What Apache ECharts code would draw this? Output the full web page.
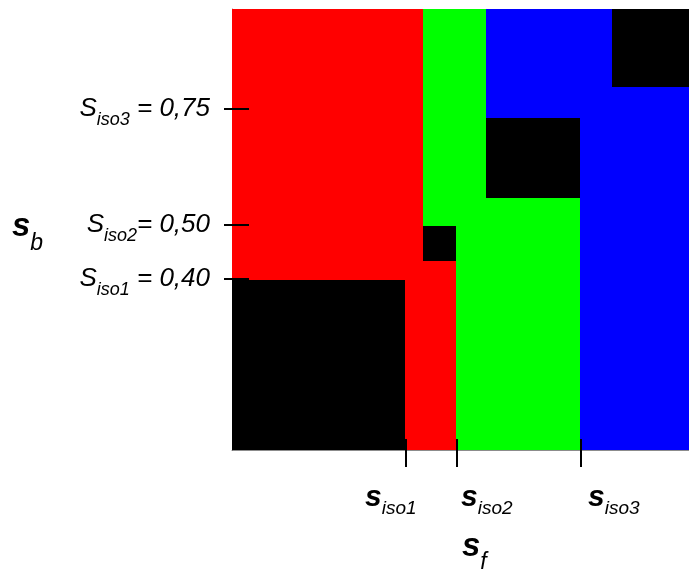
<!DOCTYPE html>
<html><head><meta charset="utf-8">
<script src="https://cdn.jsdelivr.net/npm/echarts@6/dist/echarts.min.js"></script>
<style>html,body{margin:0;padding:0;background:#fff}#c{width:689px;height:574px}</style>
</head><body><div id="c"></div><script>
// Regions of the (s_f, s_b) plane, in plot units (0-100 on each axis)
const regionClass = ['none','R','R','R','none','G','G','G','none','B','B','B','none'];
const regionX0 = [0,    0,    37.9, 41.8, 41.8, 41.8, 49.1, 55.6, 55.6, 55.6, 76.1, 83.2, 83.2];
const regionX1 = [37.9, 41.8, 41.8, 49.1, 49.1, 55.6, 76.1, 76.1, 76.1, 83.2, 100,  100,  100];
const regionY0 = [0,    38.5, 0,    0,    42.9, 50.8, 0,    50.8, 57.2, 75.3, 0,    75.3, 82.2];
const regionY1 = [38.5, 100,  38.5, 42.9, 50.8, 100,  50.8, 57.2, 75.3, 100,  75.3, 82.2, 100];

// Tick marks and labels
const sfTickValues = [38.1, 49.2, 76.4];
const sfTickSubs   = ['iso1', 'iso2', 'iso3'];
const sbTickValues = [38.8, 51.0, 77.4];
const sbTickSubs   = ['iso1', 'iso2', 'iso3'];
const sbTickNums   = ['0,40', '0,50', '0,75'];

const FONT = '"Liberation Sans", Arial, sans-serif';
const classColor = { none: '#000000', R: '#ff0000', G: '#00ff00', B: '#0000ff' };
const sfLabelDx = [-41, 4, 7];
const sbSep = [' = ', '= ', ' = '];

const regionData = regionClass.map((c, i) => [regionX0[i], regionX1[i], regionY0[i], regionY1[i]]);

const chart = echarts.init(document.getElementById('c'), null, { renderer: 'canvas' });
chart.setOption({
  animation: false,
  backgroundColor: '#fff',
  grid: { left: 232, top: 9, right: 0, bottom: 124 },
  xAxis: {
    type: 'value', min: 0, max: 100,
    axisLine: { show: true, onZero: false, lineStyle: { color: 'rgba(0,0,0,0.45)', width: 1 } },
    axisTick: { show: false }, axisLabel: { show: false }, splitLine: { show: false }
  },
  yAxis: {
    type: 'value', min: 0, max: 100,
    axisLine: { show: true, onZero: false, lineStyle: { color: 'rgba(0,0,0,0.45)', width: 1 } },
    axisTick: { show: false }, axisLabel: { show: false }, splitLine: { show: false }
  },
  series: [
    {
      type: 'custom', clip: true,
      data: regionData,
      encode: { x: [0, 1], y: [2, 3] },
      renderItem: function (params, api) {
        const p0 = api.coord([api.value(0), api.value(2)]);
        const p1 = api.coord([api.value(1), api.value(3)]);
        const x0 = Math.round(Math.min(p0[0], p1[0])), x1 = Math.round(Math.max(p0[0], p1[0]));
        const y0 = Math.round(Math.min(p0[1], p1[1])), y1 = Math.round(Math.max(p0[1], p1[1]));
        return {
          type: 'rect',
          shape: { x: x0, y: y0, width: x1 - x0, height: y1 - y0 },
          style: { fill: classColor[regionClass[params.dataIndex]] }
        };
      },
      z: 1
    },
    {
      type: 'custom', clip: false,
      data: sfTickValues.map(v => [v, 0]),
      encode: { x: 0, y: 1 },
      renderItem: function (params, api) {
        const i = params.dataIndex;
        const p = api.coord([api.value(0), api.value(1)]);
        const x = Math.round(p[0]);
        return {
          type: 'group',
          children: [
            { type: 'line', shape: { x1: x, y1: p[1] - 11, x2: x, y2: p[1] + 17 },
              style: { stroke: '#000', lineWidth: 2 } },
            { type: 'text', x: x + sfLabelDx[i], y: p[1] + 33,
              style: {
                text: '{s|s}{sub|' + sfTickSubs[i] + '}',
                align: 'left', verticalAlign: 'top',
                rich: {
                  s: { fontFamily: FONT, fontSize: 30, fontWeight: 'bold', fontStyle: 'italic', color: '#000', verticalAlign: 'top', lineHeight: 35 },
                  sub: { fontFamily: FONT, fontSize: 19, fontStyle: 'italic', color: '#000', verticalAlign: 'bottom' }
                }
              } }
          ]
        };
      },
      z: 3
    },
    {
      type: 'custom', clip: false,
      data: sbTickValues.map(v => [0, v]),
      encode: { x: 0, y: 1 },
      renderItem: function (params, api) {
        const i = params.dataIndex;
        const p = api.coord([api.value(0), api.value(1)]);
        const y = Math.round(p[1]);
        return {
          type: 'group',
          children: [
            { type: 'line', shape: { x1: p[0] - 8, y1: y, x2: p[0] + 17, y2: y },
              style: { stroke: '#000', lineWidth: 2 } },
            { type: 'text', x: p[0] - 22, y: y - 13,
              style: {
                text: '{m|S}{sub|' + sbTickSubs[i] + '}{m|' + sbSep[i] + sbTickNums[i] + '}',
                align: 'right', verticalAlign: 'top',
                rich: {
                  m: { fontFamily: FONT, fontSize: 26, fontStyle: 'italic', color: '#000', verticalAlign: 'top', lineHeight: 33 },
                  sub: { fontFamily: FONT, fontSize: 18, fontStyle: 'italic', color: '#000', verticalAlign: 'bottom' }
                }
              } }
          ]
        };
      },
      z: 3
    }
  ],
  graphic: [
    { type: 'text', left: 12, top: 210,
      style: {
        text: '{s|s}{sub|b}',
        rich: {
          s: { fontFamily: FONT, fontSize: 33, fontWeight: 'bold', fontStyle: 'italic', color: '#000', verticalAlign: 'top', lineHeight: 45 },
          sub: { fontFamily: FONT, fontSize: 23, fontStyle: 'italic', color: '#000', verticalAlign: 'bottom' }
        }
      } },
    { type: 'text', left: 462, top: 530,
      style: {
        text: '{s|s}{sub|f}',
        rich: {
          s: { fontFamily: FONT, fontSize: 33, fontWeight: 'bold', fontStyle: 'italic', color: '#000', verticalAlign: 'top', lineHeight: 44 },
          sub: { fontFamily: FONT, fontSize: 23, fontStyle: 'italic', color: '#000', verticalAlign: 'bottom' }
        }
      } }
  ]
});
</script></body></html>
